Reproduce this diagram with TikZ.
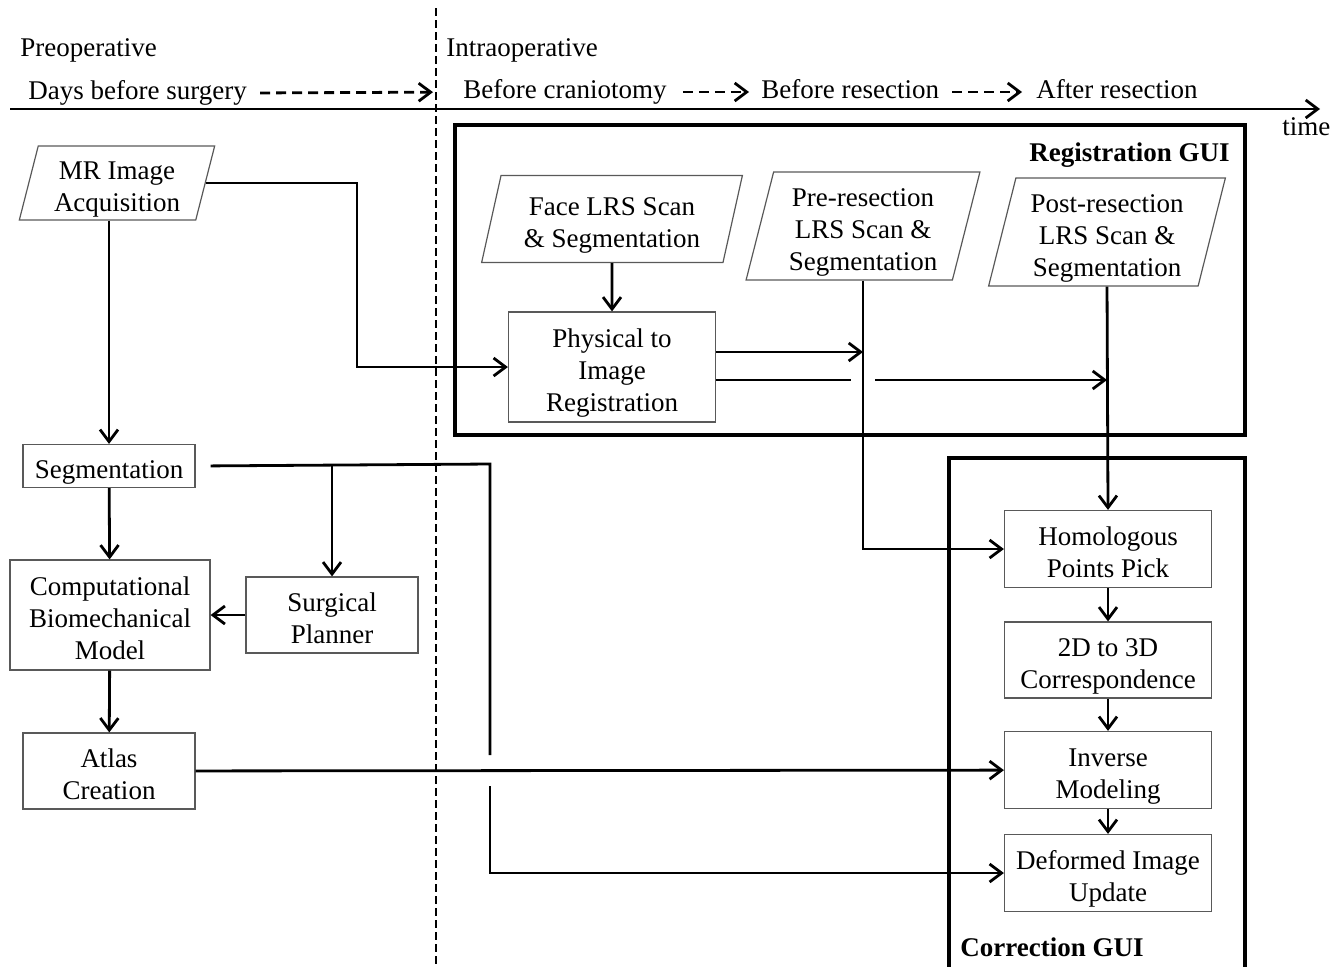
\documentclass[tikz,border=0pt]{standalone}
\usepackage{fontspec}
\setmainfont{Liberation Serif}
\usetikzlibrary{arrows.meta,calc,positioning,shapes.geometric}
\newcommand{\boxtop}{\rule{0pt}{12.3pt}}

\begin{document}
\begin{tikzpicture}[
      x=0.5pt, y=-0.5pt,
      font=\fontsize{13.5}{16}\selectfont,
      box/.style={draw=black!65, line width=0.6pt, align=center, inner sep=2pt,
        text depth=0pt},
      scan/.style={box, trapezium, trapezium left angle=76,
        trapezium right angle=104, trapezium stretches=true},
      gui/.style={draw, line width=2pt, inner sep=0pt},
      guilbl/.style={font=\fontsize{13.5}{16}\selectfont\bfseries, inner sep=0pt},
      lbl/.style={anchor=west, inner sep=0pt, text height=9.5pt, text depth=3pt},
      link/.style={line width=1.4pt},
      arr/.style={link, -{Straight Barb[length=6pt, width=9pt, line width=1.4pt]}},
      dasharr/.style={arr, dash pattern=on 5pt off 3pt}
    ]
    \useasboundingbox (0,0) rectangle (1331,966);

    % time line
    \node[lbl] (preop) at (20,50) {Preoperative};
    \node[lbl] (intraop) at (446,50) {Intraoperative};
    \node[lbl] (days) at (28,93) {Days before surgery};
    \node[lbl] (crani) at (463,92) {Before craniotomy};
    \node[lbl] (bres) at (761,92) {Before resection};
    \node[lbl] (ares) at (1036,92) {After resection};
    \node[lbl] (time) at (1282,129) {time};
    \coordinate (t0) at (10,109);
    \coordinate (t1) at (1320,109);
    \coordinate (div0) at (436,8);
    \coordinate (div1) at (436,966);

    \draw[arr] (t0) -- (t1);
    \draw[dasharr, shorten <=6.5pt, shorten >=15pt] (days.east) -- (crani.west);
    \draw[dasharr, shorten <=8pt, shorten >=6pt] (crani.east) -- (bres.west);
    \draw[dasharr, shorten <=6.5pt, shorten >=7pt] (bres.east) -- (ares.west);
    \draw[line width=1pt, dash pattern=on 4pt off 2pt] (div0) -- (div1);

    % GUI frames
    \node[gui, minimum width=395pt, minimum height=155pt] (reggui) at (850,280) {};
    \node[guilbl, anchor=north east] (reglbl) at ([xshift=-8.5pt, yshift=-9.5pt]reggui.north east) {Registration GUI};
    \node[gui, minimum width=148pt, minimum height=257pt] (corgui) at (1097,715) {};
    \node[guilbl, anchor=south west] (corlbl) at ([xshift=6.5pt, yshift=8.5pt]corgui.south west) {Correction GUI};

    % preoperative
    \node[scan, minimum width=98pt, minimum height=37pt] (mr) at (117,183) {\boxtop MR Image\\Acquisition};
    \node[box, minimum width=86pt, minimum height=21.5pt] (seg) at (109,466) {\boxtop Segmentation};
    \node[box, minimum width=100pt, minimum height=55pt] (comp) at (110,615) {\boxtop Computational\\Biomechanical\\Model};
    \node[box, minimum width=86pt, minimum height=38pt] (plan) at (332,615) {\boxtop Surgical\\Planner};
    \node[box, minimum width=86pt, minimum height=38pt] (atlas) at (109,771) {\boxtop Atlas\\Creation};

    % intraoperative
    \node[scan, minimum width=130.5pt, minimum height=43.5pt] (face) at (612,219) {\boxtop Face LRS Scan\\\& Segmentation};
    \node[scan, minimum width=117pt, minimum height=54pt] (pre) at (863,226) {\boxtop Pre-resection\\LRS Scan \&\\Segmentation};
    \node[scan, minimum width=118.5pt, minimum height=54pt] (post) at (1107,232) {\boxtop Post-resection\\LRS Scan \&\\Segmentation};
    \node[box, minimum width=103.5pt, minimum height=55pt] (phys) at (612,367) {\boxtop Physical to\\Image\\Registration};
    \node[box, minimum width=103.5pt, minimum height=38.5pt] (homo) at (1108,549) {\boxtop Homologous\\Points Pick};
    \node[box, minimum width=103.5pt, minimum height=38pt] (corr) at (1108,660) {\boxtop 2D to 3D\\Correspondence};
    \node[box, minimum width=103.5pt, minimum height=38.5pt] (inv) at (1108,770) {\boxtop Inverse\\Modeling};
    \node[box, minimum width=103.5pt, minimum height=38.5pt] (defo) at (1108,873) {\boxtop Deformed Image\\Update};

    \coordinate (mrbend) at (357,367);
    \coordinate (segturn) at (490,464);
    \coordinate (cross) at (atlas.east -| segturn);
    \coordinate (up) at ([yshift=7.5pt]phys.east);
    \coordinate (low) at ([yshift=-6.5pt]phys.east);
    \coordinate (lowcross) at (low -| pre.south);

    \draw[arr] (mr.east) -| (mrbend) -- (phys.west);
    \draw[arr] (mr.south -| seg.north) -- (seg.north);
    \draw[arr] (seg) -- (comp);
    \draw[arr] (plan) -- (comp);
    \draw[arr] (comp) -- (atlas);
    \draw[link, shorten <=7.5pt] (seg.east) -- (segturn) -- ([yshift=8pt]cross);
    \draw[arr] ([yshift=-7.5pt]cross) |- (defo.west);
    \draw[arr] (seg.east -| plan) -- (plan.north);
    \draw[arr] (atlas) -- (inv);

    \draw[arr] (face) -- (phys);
    \draw[arr] (up) -- (up -| pre.south);
    \draw[link] (low) -- ([xshift=-6pt]lowcross);
    \draw[arr] ([xshift=6pt]lowcross) -- (low -| post.south);
    \draw[arr] (pre.south) |- (homo.west);
    \draw[arr] (post.south) -- (homo.north);
    \draw[arr] (homo) -- (corr);
    \draw[arr] (corr) -- (inv);
    \draw[arr] (inv) -- (defo);
  \end{tikzpicture}
\end{document}
